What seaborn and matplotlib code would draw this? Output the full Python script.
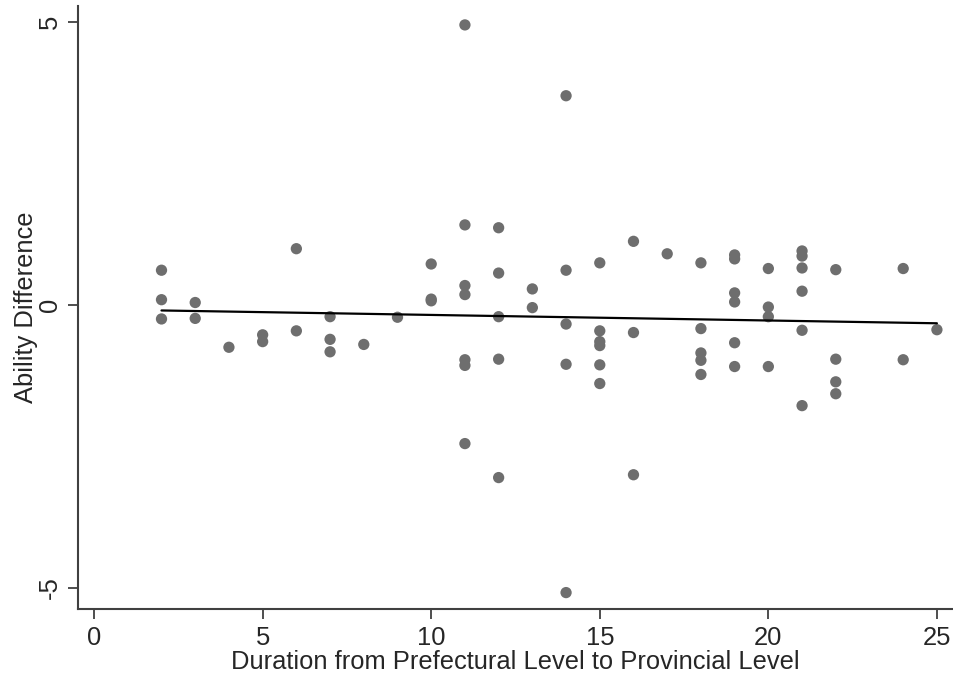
import matplotlib
matplotlib.use("Agg")
import matplotlib.pyplot as plt
import seaborn as sns
import pandas as pd

duration = [2, 2, 2,
            3, 3,
            4,
            5, 5,
            6, 6,
            7, 7, 7,
            8,
            9,
            10, 10, 10,
            11, 11, 11, 11, 11, 11, 11,
            12, 12, 12, 12, 12,
            13, 13,
            14, 14, 14, 14, 14,
            15, 15, 15, 15, 15, 15,
            16, 16, 16,
            17,
            18, 18, 18, 18, 18,
            19, 19, 19, 19, 19, 19,
            20, 20, 20, 20,
            21, 21, 21, 21, 21, 21,
            22, 22, 22, 22,
            24, 24,
            25]
ability_diff = [0.61, 0.09, -0.25,
                0.04, -0.24,
                -0.75,
                -0.53, -0.65,
                0.99, -0.46,
                -0.21, -0.61, -0.83,
                -0.70,
                -0.22,
                0.72, 0.10, 0.07,
                4.94, 1.41, 0.34, 0.18, -0.97, -1.07, -2.45,
                1.36, 0.56, -0.21, -0.96, -3.05,
                0.28, -0.05,
                3.69, 0.61, -0.34, -1.05, -5.08,
                0.74, -0.46, -0.65, -0.72, -1.06, -1.39,
                1.12, -0.49, -3.00,
                0.90,
                0.74, -0.42, -0.85, -0.98, -1.23,
                0.88, 0.81, 0.21, 0.05, -0.67, -1.09,
                0.64, -0.04, -0.21, -1.09,
                0.95, 0.86, 0.65, 0.24, -0.45, -1.78,
                0.62, -0.96, -1.36, -1.57,
                0.64, -0.97,
                -0.44]

x_ticks = [0, 5, 10, 15, 20, 25]
y_ticks = [-5, 0, 5]

df = pd.DataFrame({"duration": duration, "ability": ability_diff})

sns.set_theme(style="white")
plt.rcParams["font.family"] = ["Liberation Sans", "DejaVu Sans"]

fig = plt.figure(figsize=(9.54, 6.81), dpi=100)
ax = fig.add_axes([0.082, 0.1057, 0.9167, 0.886])

sns.regplot(data=df, x="duration", y="ability", ax=ax, ci=None, truncate=True,
            scatter_kws=dict(s=66, color="#6e6e6e", edgecolor="none", alpha=1),
            line_kws=dict(color="black", linewidth=1.6))

ax.set_xlim(-0.47, 25.47)
ax.set_ylim(-5.37, 5.28)
ax.set_xticks(x_ticks)
ax.set_yticks(y_ticks)
ax.set_xticklabels([str(t) for t in x_ticks], fontsize=18.4)
ax.set_yticklabels([str(t) for t in y_ticks], fontsize=18.4, rotation=90, va="center")
ax.tick_params(axis="both", direction="out", length=7, width=1.3, color="#404040",
               bottom=True, left=True, pad=5)
ax.set_xlabel("Duration from Prefectural Level to Provincial Level", fontsize=18.4, labelpad=0)
ax.set_ylabel("Ability Difference", fontsize=18.4, labelpad=0)
for side in ["top", "right"]:
    ax.spines[side].set_visible(False)
for side in ["left", "bottom"]:
    ax.spines[side].set_color("#404040")
    ax.spines[side].set_linewidth(1.5)

fig.savefig("out.png", dpi=100)
